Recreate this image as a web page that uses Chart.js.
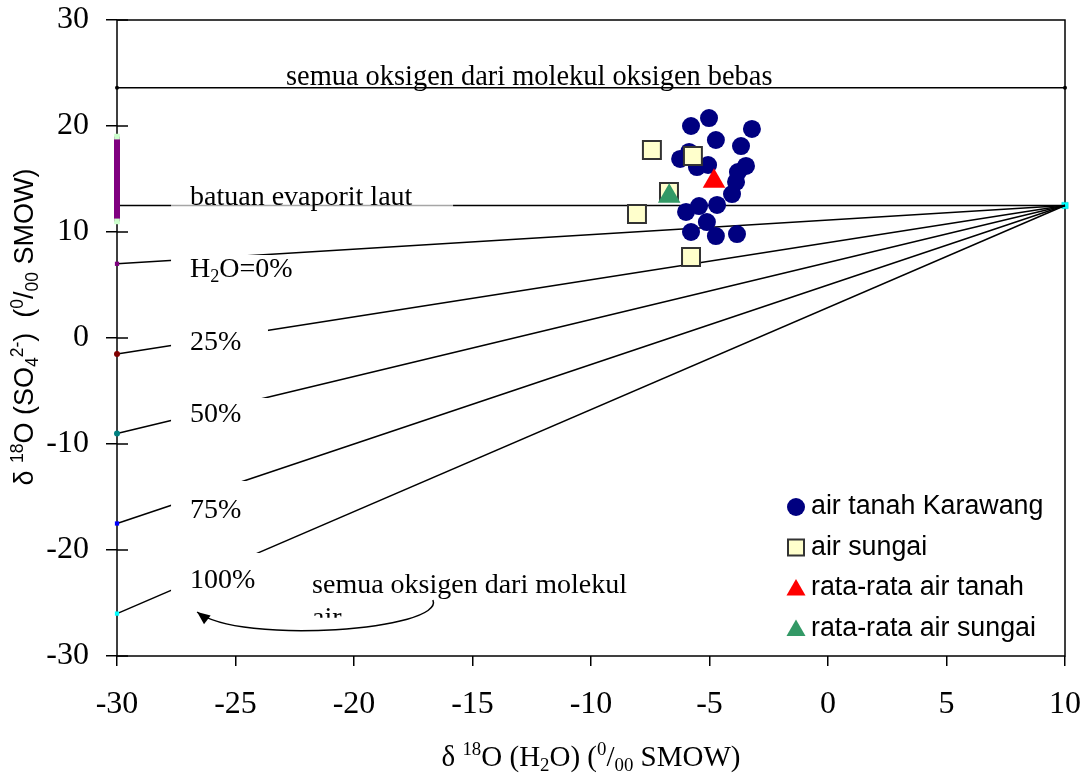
<!DOCTYPE html>
<html>
<head>
<meta charset="utf-8">
<script src="https://cdn.jsdelivr.net/npm/chart.js@4.4.1/dist/chart.umd.min.js"></script>
<style>
  html, body { margin: 0; padding: 0; background: #fff; }
  canvas { display: block; }
</style>
</head>
<body>
<canvas id="chartIsotop" width="1092" height="777"></canvas>
<script>
( () => {

  // --- data ---
  const groundX = [-5.02, -5.78, -3.21, -4.73, -3.67, -5.86, -6.24, -5.53, -5.06, -3.46, -3.80, -3.88, -4.05, -4.68, -5.44, -5.99, -5.11, -5.78, -4.73, -3.84];
  const groundY = [20.75, 20.0, 19.72, 18.68, 18.11, 17.55, 16.89, 16.13, 16.32, 16.23, 15.66, 14.72, 13.58, 12.55, 12.45, 11.89, 10.94, 10.0, 9.62, 9.81];
  const riverX = [-7.43, -5.70, -6.71, -8.06, -5.78];
  const riverY = [17.74, 17.17, 13.77, 11.70, 7.64];
  const meanGround = [-4.81, 14.78];
  const meanRiver = [-6.70, 13.37];

  const mixLabels = ['H2O=0%', '25%', '50%', '75%', '100%'];
  const mixStartY = [7, -1.5, -9, -17.5, -26];   // at x = -30
  const mixEnd = [10, 12.5];                     // all lines meet here
  const evapY = 12.5;
  const freeO2Y = 23.6;
  const evapRange = [11, 19];
  const mixMarkColors = ['#800080', '#800000', '#008080', '#0000ff', '#00ffff'];
  const mixMarkStyles = ['rect', 'circle', 'circle', 'rect', 'rect'];

  const seriesNames = ['air tanah Karawang', 'air sungai', 'rata-rata air tanah', 'rata-rata air sungai'];
  const xRange = [-30, 10];
  const yRange = [-30, 30];

  const SERIF = '"Liberation Serif", "Times New Roman", serif';
  const SANS = '"Liberation Sans", Arial, sans-serif';

  const zip = (xs, ys) => xs.map((x, i) => ({ x: x, y: ys[i] }));

  // text placed on the plot (data coordinates, left / baseline)
  const notes = [
    { segs: [{ t: 'semua oksigen dari molekul oksigen bebas' }], x: -22.87, y: 23.87, size: 28.4 },
    { segs: [{ t: 'batuan evaporit laut' }], x: -26.92, y: 12.55, size: 28 },
    { segs: [{ t: 'H' }, { t: '2', sub: true }, { t: 'O=0%' }], x: -26.92, y: 5.75, size: 28 },
    { segs: [{ t: mixLabels[1] }], x: -26.92, y: -1.13, size: 28 },
    { segs: [{ t: mixLabels[2] }], x: -26.92, y: -7.92, size: 28 },
    { segs: [{ t: mixLabels[3] }], x: -26.92, y: -16.98, size: 28 },
    { segs: [{ t: mixLabels[4] }], x: -26.92, y: -23.58, size: 28 },
    { segs: [{ t: 'semua oksigen dari molekul' }], x: -21.77, y: -24.06, size: 28 },
  ];
  // white boxes behind the labels
  const boxes = [
    { x1: -27.72, x2: -15.82, y1: 14.9, y2: 11.6, fill: 'rgba(255,255,255,0.65)' },
    { x1: -27.72, x2: -22.91, y1: 7.83, y2: 4.53, fill: '#fff' },
    { x1: -27.72, x2: -23.63, y1: 0.94, y2: -2.08, fill: '#fff' },
    { x1: -27.72, x2: -23.63, y1: -5.66, y2: -8.87, fill: '#fff' },
    { x1: -27.72, x2: -23.63, y1: -13.49, y2: -17.92, fill: '#fff' },
    { x1: -27.72, x2: -23.04, y1: -20.28, y2: -24.53, fill: '#fff' },
  ];
  const arrowPath = [[-16.67, -24.72], [-16.16, -27.55], [-24.81, -28.96], [-26.62, -25.85]];

  const datasets = [];

  datasets.push({
    label: seriesNames[0], data: zip(groundX, groundY), order: 4, inLegend: true,
    pointStyle: 'circle', pointRadius: 9, pointHoverRadius: 9,
    backgroundColor: '#000080', borderColor: '#000080', borderWidth: 0
  });
  datasets.push({
    label: seriesNames[1], data: zip(riverX, riverY), order: 3, inLegend: true,
    pointStyle: 'rect', pointRadius: 12.7, pointHoverRadius: 12.7,
    backgroundColor: '#ffffcc', borderColor: '#333333', borderWidth: 2
  });
  datasets.push({
    label: seriesNames[2], data: [{ x: meanGround[0], y: meanGround[1] }], order: 2, inLegend: true,
    pointStyle: 'triangle', pointRadius: 13, pointHoverRadius: 13,
    backgroundColor: '#ff0000', borderColor: '#ff0000', borderWidth: 0
  });
  datasets.push({
    label: seriesNames[3], data: [{ x: meanRiver[0], y: meanRiver[1] }], order: 1, inLegend: true,
    pointStyle: 'triangle', pointRadius: 13, pointHoverRadius: 13,
    backgroundColor: '#339966', borderColor: '#339966', borderWidth: 0
  });

  // mixing lines toward the evaporite point
  for (let i = 0; i < mixStartY.length; i++) {
    datasets.push({
      label: mixLabels[i], data: [{ x: xRange[0], y: mixStartY[i] }, { x: mixEnd[0], y: mixEnd[1] }],
      showLine: true, order: 10, clip: false, borderColor: '#000', borderWidth: 1.5,
      pointRadius: [3, 0], pointStyle: mixMarkStyles[i],
      pointBackgroundColor: mixMarkColors[i], pointBorderColor: mixMarkColors[i], pointBorderWidth: 0
    });
  }
  datasets.push({
    label: 'batuan evaporit laut', data: [{ x: xRange[0], y: evapY }, { x: xRange[1], y: evapY }],
    showLine: true, order: 10, clip: false, borderColor: '#000', borderWidth: 1.5,
    pointRadius: [3, 4.5], pointStyle: 'rect',
    pointBackgroundColor: '#00ffff', pointBorderColor: '#00cccc', pointBorderWidth: 0.5
  });
  datasets.push({
    label: 'oksigen bebas', data: [{ x: xRange[0], y: freeO2Y }, { x: xRange[1], y: freeO2Y }],
    showLine: true, order: 10, clip: false, borderColor: '#000', borderWidth: 1.5,
    pointRadius: 2, pointStyle: 'circle', pointBackgroundColor: '#000', pointBorderWidth: 0
  });
  datasets.push({
    label: 'rentang evaporit', data: [{ x: xRange[0], y: evapRange[0] }, { x: xRange[0], y: evapRange[1] }],
    showLine: true, order: 9, clip: false, borderColor: '#800080', borderWidth: 6, borderCapStyle: 'butt',
    pointRadius: 4, pointStyle: 'rect', pointBackgroundColor: '#ccffcc', pointBorderWidth: 0
  });

  const P = (chart, x, y) => [chart.scales.x.getPixelForValue(x), chart.scales.y.getPixelForValue(y)];

  function richWidth(ctx, segs, size, family) {
    let w = 0;
    segs.forEach(s => {
      ctx.font = ((s.sub || s.sup) ? size * 0.65 : size) + 'px ' + family;
      w += ctx.measureText(s.t).width;
    });
    return w;
  }
  function drawRich(ctx, segs, x, y, size, family) {
    ctx.textAlign = 'left';
    ctx.textBaseline = 'alphabetic';
    segs.forEach(s => {
      const small = s.sub || s.sup;
      ctx.font = (small ? size * 0.65 : size) + 'px ' + family;
      const dy = s.sub ? size * 0.18 : (s.sup ? -size * 0.38 : 0);
      ctx.fillText(s.t, x, y + dy);
      x += ctx.measureText(s.t).width;
    });
  }

  function marker(ctx, style, x, y, r, fill, stroke, bw) {
    ctx.beginPath();
    if (style === 'circle') {
      ctx.arc(x, y, r, 0, Math.PI * 2);
    } else if (style === 'rect') {
      ctx.rect(x - r, y - r, 2 * r, 2 * r);
    } else {
      ctx.moveTo(x, y - r);
      ctx.lineTo(x + r * 0.866, y + r / 2);
      ctx.lineTo(x - r * 0.866, y + r / 2);
      ctx.closePath();
    }
    ctx.fillStyle = fill;
    ctx.fill();
    if (bw) { ctx.lineWidth = bw; ctx.strokeStyle = stroke; ctx.stroke(); }
  }

  const decor = {
    id: 'decor',
    beforeDatasetsDraw(chart) {
      const ctx = chart.ctx, a = chart.chartArea;
      ctx.save();
      ctx.strokeStyle = '#000';
      ctx.lineWidth = 1.5;
      ctx.strokeRect(a.left, a.top, a.right - a.left, a.bottom - a.top);
      // inner half of the y tick marks
      ctx.beginPath();
      chart.scales.y.ticks.forEach(t => {
        const py = chart.scales.y.getPixelForValue(t.value);
        ctx.moveTo(a.left, py);
        ctx.lineTo(a.left + 11, py);
      });
      ctx.stroke();
      ctx.restore();
    },
    afterDatasetsDraw(chart) {
      const ctx = chart.ctx;
      ctx.save();
      boxes.forEach(b => {
        const [x1, y1] = P(chart, b.x1, b.y1);
        const [x2, y2] = P(chart, b.x2, b.y2);
        ctx.fillStyle = b.fill;
        ctx.fillRect(x1, y1, x2 - x1, y2 - y1);
      });
      ctx.fillStyle = '#000';
      notes.forEach(n => {
        const [x, y] = P(chart, n.x, n.y);
        drawRich(ctx, n.segs, x, y, n.size, SERIF);
      });
      // second line of the lower note, cut by its text box
      const [ax, ay] = P(chart, -21.77, -27.17);
      const [, clipY] = P(chart, 0, -26.4);
      ctx.save();
      ctx.beginPath();
      ctx.rect(ax - 5, ay - 40, 80, clipY - (ay - 40));
      ctx.clip();
      ctx.font = '28px ' + SERIF;
      ctx.fillText('air', ax, ay);
      ctx.restore();

      // curved arrow
      const pts = arrowPath.map(p => P(chart, p[0], p[1]));
      ctx.strokeStyle = '#000';
      ctx.lineWidth = 1.5;
      ctx.beginPath();
      ctx.moveTo(pts[0][0], pts[0][1]);
      ctx.bezierCurveTo(pts[1][0], pts[1][1], pts[2][0], pts[2][1], pts[3][0], pts[3][1]);
      ctx.stroke();
      const ang = Math.atan2(pts[3][1] - pts[2][1], pts[3][0] - pts[2][0]);
      ctx.beginPath();
      ctx.moveTo(pts[3][0], pts[3][1]);
      ctx.lineTo(pts[3][0] - 14 * Math.cos(ang - 0.4), pts[3][1] - 14 * Math.sin(ang - 0.4));
      ctx.lineTo(pts[3][0] - 14 * Math.cos(ang + 0.4), pts[3][1] - 14 * Math.sin(ang + 0.4));
      ctx.closePath();
      ctx.fillStyle = '#000';
      ctx.fill();

      // legend
      const a = chart.chartArea;
      const lx = a.right - 269, ly0 = a.bottom - 149, step = 40.5;
      let row = 0;
      chart.data.datasets.forEach(ds => {
        if (!ds.inLegend) return;
        const y = ly0 + row * step;
        const style = ds.pointStyle;
        const r = style === 'circle' ? 9 : (style === 'rect' ? 8 : 11);
        marker(ctx, style, lx, style === 'triangle' ? y + 2 : y, r, ds.backgroundColor, ds.borderColor, ds.borderWidth);
        ctx.fillStyle = '#000';
        ctx.font = '26.8px ' + SANS;
        ctx.textAlign = 'left';
        ctx.textBaseline = 'middle';
        ctx.fillText(ds.label, lx + 15, y);
        row++;
      });
      ctx.restore();
    },
    afterDraw(chart) {
      const ctx = chart.ctx, a = chart.chartArea;
      ctx.save();
      ctx.fillStyle = '#000';
      const xt = [{ t: 'δ ' }, { t: '18', sup: true }, { t: 'O (H' }, { t: '2', sub: true }, { t: 'O) (' },
                  { t: '0', sup: true }, { t: '/' }, { t: '00', sub: true }, { t: ' SMOW)' }];
      const wx = richWidth(ctx, xt, 29, SERIF);
      drawRich(ctx, xt, (a.left + a.right) / 2 - wx / 2, 766, 29, SERIF);

      const yt = [{ t: 'δ ' }, { t: '18', sup: true }, { t: 'O (SO' }, { t: '4', sub: true }, { t: '2-', sup: true },
                  { t: ')  (' }, { t: '0', sup: true }, { t: '/' }, { t: '00', sub: true }, { t: ' SMOW)' }];
      const wy = richWidth(ctx, yt, 27, SANS);
      ctx.translate(33, 327);
      ctx.rotate(-Math.PI / 2);
      drawRich(ctx, yt, -wy / 2, 0, 27, SANS);
      ctx.restore();
    }
  };

  const tickFont = { family: SERIF, size: 32 };

  new Chart(document.getElementById('chartIsotop').getContext('2d'), {
    type: 'scatter',
    data: { datasets: datasets },
    options: {
      responsive: false,
      animation: false,
      layout: { padding: { top: 20, right: 27, left: 0, bottom: 0 } },
      plugins: {
        legend: { display: false },
        tooltip: { enabled: false }
      },
      scales: {
        x: {
          type: 'linear', min: xRange[0], max: xRange[1],
          afterFit: s => { s.height = 121; s.paddingLeft = 0; s.paddingRight = 0; },
          border: { display: false },
          grid: { drawOnChartArea: false, color: '#000', lineWidth: 1.5, tickLength: 10 },
          ticks: { stepSize: 5, color: '#000', font: tickFont, padding: 19, maxRotation: 0 }
        },
        y: {
          type: 'linear', min: yRange[0], max: yRange[1],
          afterFit: s => { s.width = 117; s.paddingTop = 0; s.paddingBottom = 0; },
          border: { display: false },
          grid: { drawOnChartArea: false, color: '#000', lineWidth: 1.5, tickLength: 11 },
          ticks: { stepSize: 10, color: '#000', font: tickFont, padding: 17 }
        }
      }
    },
    plugins: [decor]
  });

})();
</script>
</body>
</html>
